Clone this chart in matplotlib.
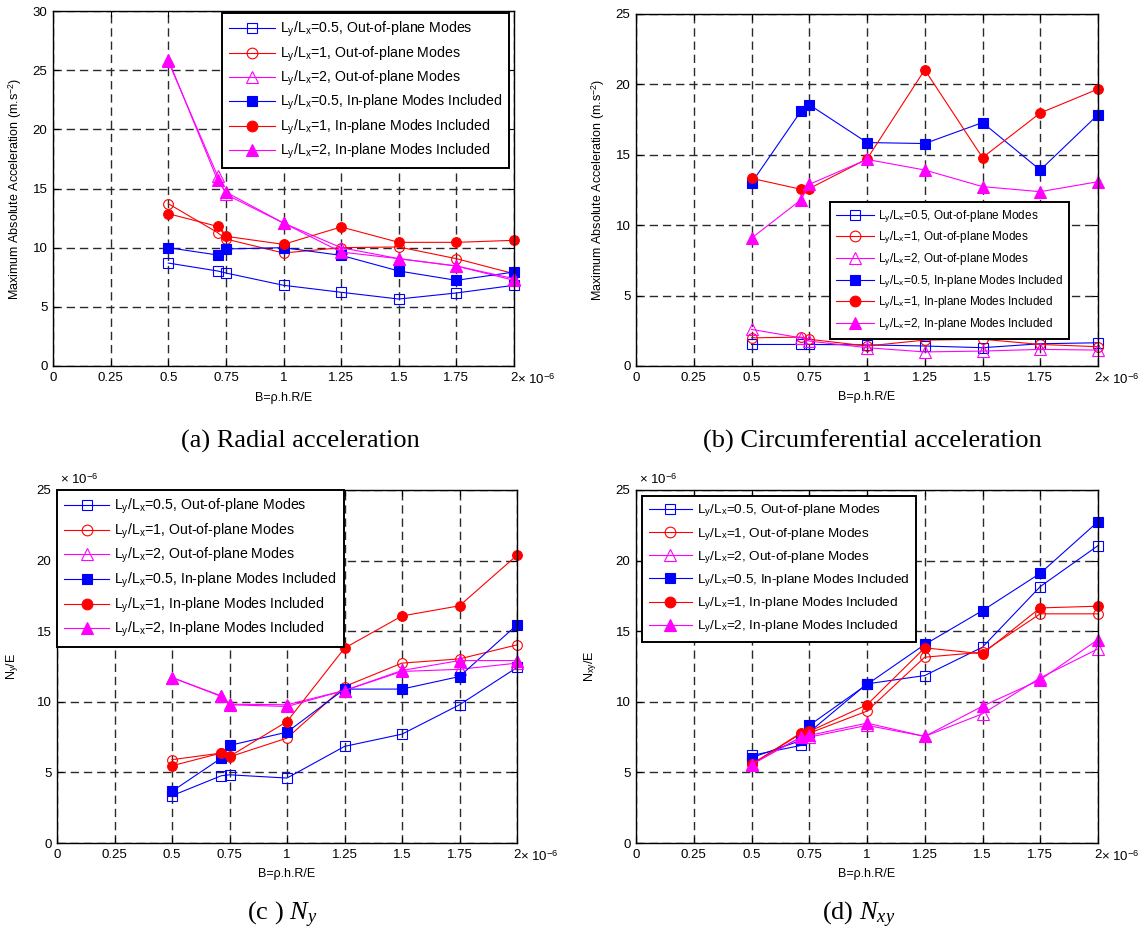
import numpy as np
import matplotlib
matplotlib.use('Agg')
import matplotlib.pyplot as plt

plt.rcParams['font.family'] = ['Liberation Sans', 'DejaVu Sans']
plt.rcParams['mathtext.fontset'] = 'custom'
plt.rcParams['mathtext.rm'] = 'Liberation Sans'
plt.rcParams['mathtext.it'] = 'Liberation Serif:italic'
plt.rcParams['mathtext.bf'] = 'Liberation Sans:bold'

# B = rho.h.R/E, in units of 1e-6
B = [0.5, 0.714, 0.75, 1.0, 1.25, 1.5, 1.75, 2.0]
xticks = [0, 0.25, 0.5, 0.75, 1, 1.25, 1.5, 1.75, 2]
xticklabels = ['0', '0.25', '0.5', '0.75', '1', '1.25', '1.5', '1.75', '2']

labels = ['L$_\\mathrm{y}$/L$_\\mathrm{x}$=0.5, Out-of-plane Modes',
          'L$_\\mathrm{y}$/L$_\\mathrm{x}$=1, Out-of-plane Modes',
          'L$_\\mathrm{y}$/L$_\\mathrm{x}$=2, Out-of-plane Modes',
          'L$_\\mathrm{y}$/L$_\\mathrm{x}$=0.5, In-plane Modes Included',
          'L$_\\mathrm{y}$/L$_\\mathrm{x}$=1, In-plane Modes Included',
          'L$_\\mathrm{y}$/L$_\\mathrm{x}$=2, In-plane Modes Included']

# (a) radial acceleration
rad_out_05 = [8.7, 8.03, 7.86, 6.82, 6.23, 5.66, 6.17, 6.82]
rad_out_1 = [13.72, 11.27, 10.73, 9.55, 10.0, 10.06, 9.07, 7.8]
rad_out_2 = [25.75, 16.06, 14.5, 12.08, 10.0, 9.07, 8.45, 7.24]
rad_in_05 = [10.0, 9.38, 9.89, 10.0, 9.35, 8.03, 7.24, 7.94]
rad_in_1 = [12.87, 11.8, 10.96, 10.28, 11.75, 10.45, 10.45, 10.62]
rad_in_2 = [25.9, 15.7, 14.7, 12.08, 9.63, 9.07, 8.45, 7.38]

# (b) circumferential acceleration
cir_out_05 = [1.53, 1.53, 1.53, 1.5, 1.42, 1.3, 1.58, 1.65]
cir_out_1 = [2.0, 2.05, 1.9, 1.42, 1.84, 1.9, 1.53, 1.37]
cir_out_2 = [2.6, 2.0, 1.77, 1.3, 1.0, 1.06, 1.18, 1.13]
cir_in_05 = [13.0, 18.1, 18.56, 15.87, 15.8, 17.29, 13.92, 17.85]
cir_in_1 = [13.33, 12.55, 12.6, 14.7, 21.04, 14.8, 17.97, 19.67]
cir_in_2 = [9.08, 11.8, 12.9, 14.67, 13.92, 12.74, 12.38, 13.09]

# (c) Ny/E, x 1e-6
ny_out_05 = [3.35, 4.76, 4.83, 4.6, 6.84, 7.71, 9.79, 12.43]
ny_out_1 = [5.9, 6.37, 6.1, 7.43, 11.08, 12.74, 13.04, 14.03]
ny_out_2 = [11.72, 10.42, 9.83, 9.79, 10.8, 12.15, 12.3, 12.74]
ny_in_05 = [3.66, 6.01, 6.91, 7.85, 10.9, 10.9, 11.79, 15.45]
ny_in_1 = [5.47, 6.37, 6.13, 8.6, 13.8, 16.08, 16.8, 20.38]
ny_in_2 = [11.72, 10.38, 9.79, 9.67, 10.8, 12.22, 12.92, 12.92]

# (d) Nxy/E, x 1e-6
nxy_out_05 = [6.2, 6.91, 7.85, 11.27, 11.86, 13.87, 18.16, 21.06]
nxy_out_1 = [5.57, 7.74, 7.78, 9.34, 13.16, 13.51, 16.23, 16.23]
nxy_out_2 = [5.6, 7.5, 7.5, 8.33, 7.55, 9.15, 11.7, 13.75]
nxy_in_05 = [6.04, 7.26, 8.33, 11.23, 14.06, 16.46, 19.1, 22.76]
nxy_in_1 = [5.57, 7.8, 7.9, 9.79, 13.82, 13.4, 16.65, 16.77]
nxy_in_2 = [5.54, 7.5, 7.62, 8.49, 7.55, 9.69, 11.56, 14.41]

BLUE, RED, MAG = '#0000ff', '#ff0000', '#ff00ff'
styles = [(BLUE, 's', 'none'), (RED, 'o', 'none'), (MAG, '^', 'none'),
          (BLUE, 's', BLUE), (RED, 'o', RED), (MAG, '^', MAG)]

W, H = 1148, 941
fig = plt.figure(figsize=(W / 100, H / 100), dpi=100)


def box(l, r, t, b):
    return [l / W, 1 - b / H, (r - l) / W, (b - t) / H]


def panel(pos, series, ymax, ylabel, ylab_x, leg_loc, leg_anchor, leg_fs, leg_sp,
          top_exp=False):
    ax = fig.add_axes(pos)
    for (c, m, fc), y, lab in zip(styles, series, labels):
        ms = 8 if m == '^' else 7
        ax.plot(B, y, color=c, marker=m, markerfacecolor=fc, markeredgecolor=c,
                markersize=ms, linewidth=0.8, markeredgewidth=0.8, label=lab,
                clip_on=False)
    ax.set_xlim(0, 2)
    ax.set_ylim(0, ymax)
    ax.set_xticks(xticks)
    ax.set_xticklabels(xticklabels)
    ax.set_yticks(np.arange(0, ymax + 1, 5))
    ax.tick_params(direction='in', length=4, top=True, right=True,
                   labelsize=9.5, pad=4)
    ax.grid(True, color='#2a2a2a', linestyle=(0, (6, 3.5)), linewidth=1.0)
    for s in ax.spines.values():
        s.set_linewidth(1.0)
    ax.set_xlabel('B=ρ.h.R/E', fontsize=9)
    ax.xaxis.set_label_coords(0.5, -0.072)
    ax.set_ylabel(ylabel, fontsize=9)
    ax.yaxis.set_label_coords(ylab_x, 0.5)
    ax.annotate('× 10$^{\\mathrm{-6}}$', xy=(1, 0), xycoords='axes fraction',
                xytext=(2, -5), textcoords='offset points', ha='left', va='top',
                fontsize=9.5)
    if top_exp:
        ax.annotate('× 10$^{\\mathrm{-6}}$', xy=(0, 1), xycoords='axes fraction',
                    xytext=(2, 2), textcoords='offset points', ha='left',
                    va='bottom', fontsize=9.5)
    leg = ax.legend(loc=leg_loc, bbox_to_anchor=leg_anchor, fontsize=leg_fs,
                    frameon=True, fancybox=False, framealpha=1, edgecolor='k',
                    borderaxespad=0, handlelength=3.2, handletextpad=0.35,
                    labelspacing=leg_sp, borderpad=0.5, markerscale=1.1)
    leg.get_frame().set_linewidth(1.4)
    return ax


panel(box(53, 514, 11, 366), [rad_out_05, rad_out_1, rad_out_2, rad_in_05, rad_in_1, rad_in_2],
      30, 'Maximum Absolute Acceleration (m.s$^{\\mathrm{-2}}$)', -0.063,
      'upper right', (0.989, 0.994), 10.2, 0.38)
panel(box(636, 1098, 14, 366), [cir_out_05, cir_out_1, cir_out_2, cir_in_05, cir_in_1, cir_in_2],
      25, 'Maximum Absolute Acceleration (m.s$^{\\mathrm{-2}}$)', -0.063,
      'upper right', (0.937, 0.466), 8.5, 0.42)
panel(box(57, 517, 490, 843), [ny_out_05, ny_out_1, ny_out_2, ny_in_05, ny_in_1, ny_in_2],
      25, 'N$_\\mathrm{y}$/E', -0.078,
      'upper left', (0.0, 1.0), 10.2, 0.4, top_exp=True)
panel(box(636, 1098, 490, 843), [nxy_out_05, nxy_out_1, nxy_out_2, nxy_in_05, nxy_in_1, nxy_in_2],
      25, 'N$_\\mathrm{xy}$/E', -0.08,
      'upper left', (0.013, 0.983), 9.7, 0.48, top_exp=True)

cap_font = ['Liberation Serif', 'DejaVu Serif']
fig.text(300 / W, 1 - 441 / H, '(a) Radial acceleration', ha='center', va='center',
         fontsize=19, family=cap_font)
fig.text(872 / W, 1 - 441 / H, '(b) Circumferential acceleration', ha='center', va='center',
         fontsize=19, family=cap_font)
fig.text(282 / W, 1 - 915 / H, '(c ) $N_y$', ha='center', va='center',
         fontsize=19, family=cap_font)
fig.text(859 / W, 1 - 915 / H, '(d) $N_{xy}$', ha='center', va='center',
         fontsize=19, family=cap_font)

fig.savefig('out.png', dpi=100)
